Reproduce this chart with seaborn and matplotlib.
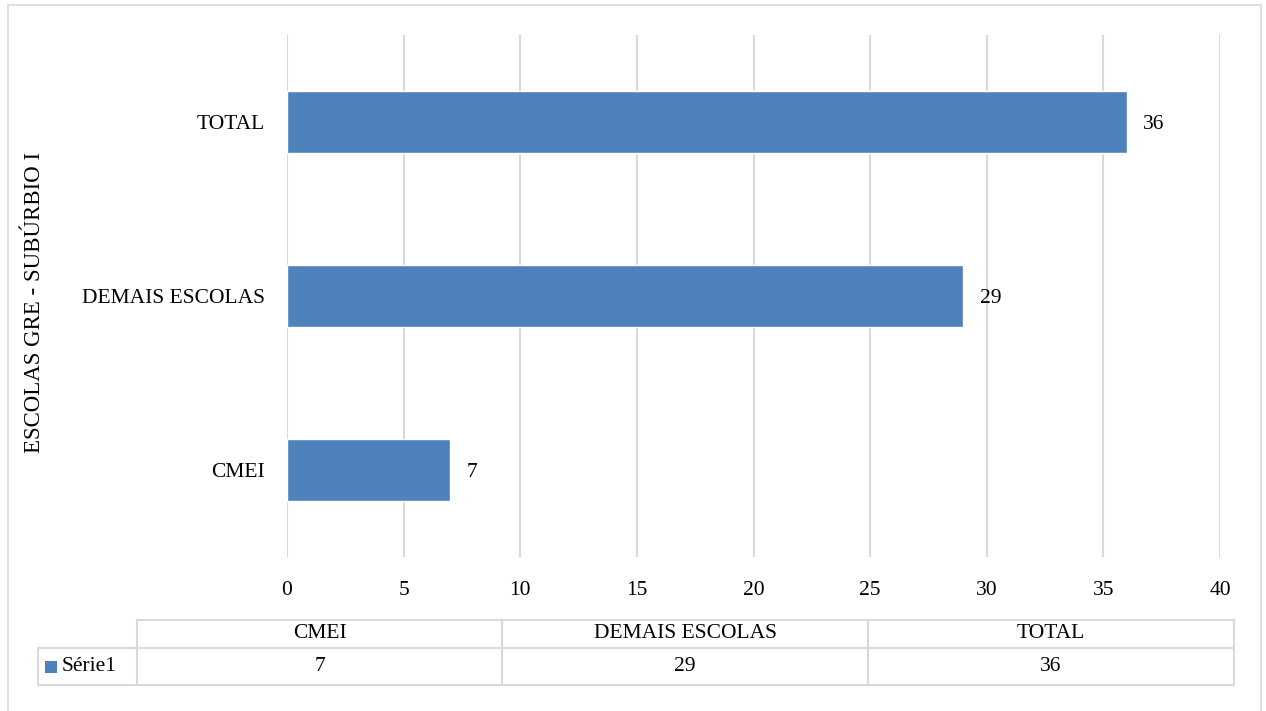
import matplotlib
matplotlib.use("Agg")
import matplotlib.pyplot as plt
import seaborn as sns
import pandas as pd
from matplotlib.lines import Line2D
from matplotlib.patches import Rectangle

categories = ["CMEI", "DEMAIS ESCOLAS", "TOTAL"]
values = [7, 29, 36]
series_name = "Série1"
y_title = "ESCOLAS GRE - SUBÚRBIO I"
x_ticks = [0, 5, 10, 15, 20, 25, 30, 35, 40]

BLUE = "#4F81BD"
GRID = "#D9D9D9"
FONT = "Liberation Serif"
FS = 15.5

sns.set_theme(style="white")
plt.rcParams["font.family"] = [FONT, "DejaVu Serif"]

W, H = 1266, 711
fig = plt.figure(figsize=(W / 100, H / 100), dpi=100)

def fx(px):
    return px / W

def fy(py):
    return 1 - py / H

ax = fig.add_axes([fx(287), fy(557), fx(1220) - fx(287), (557 - 35) / H])

df = pd.DataFrame({"cat": categories, "val": values})
sns.barplot(data=df, x="val", y="cat", order=categories[::-1], color=BLUE,
            saturation=1, width=0.356, ax=ax, zorder=3)
for c in ax.containers:
    texts = ax.bar_label(c, labels=[f"{v:g}" for v in c.datavalues],
                         padding=12, fontsize=FS, color="black")
    for t in texts:
        t.set_va("center_baseline")

ax.set_xlim(0, 40)
ax.set_xticks(x_ticks)
ax.set_xticklabels([str(t) for t in x_ticks])
ax.grid(axis="x", color=GRID, linewidth=1.5, zorder=0)
ax.grid(axis="y", visible=False)
for s in ax.spines.values():
    s.set_visible(False)
ax.tick_params(axis="x", length=0, pad=17, labelsize=FS, labelcolor="black")
ax.tick_params(axis="y", length=0, pad=16, labelsize=FS, labelcolor="black")
ax.set_xlabel("")
ax.set_ylabel("")
fig.text(fx(35), fy(302), y_title, rotation=90, ha="center", va="center",
         fontsize=16.5, color="black")

# outer chart border
fig.add_artist(Rectangle((fx(8), fy(716)), fx(1261) - fx(8), (716 - 5) / H,
                         transform=fig.transFigure, fill=False,
                         edgecolor=GRID, linewidth=1.2))

# data table
cols = [137, 502, 868, 1234]
y_top, y_mid, y_bot = 620, 648, 685
lw = 1.5

def hline(x0, x1, y):
    fig.add_artist(Line2D([fx(x0), fx(x1)], [fy(y), fy(y)],
                          transform=fig.transFigure, color=GRID, linewidth=lw))

def vline(x, y0, y1):
    fig.add_artist(Line2D([fx(x), fx(x)], [fy(y0), fy(y1)],
                          transform=fig.transFigure, color=GRID, linewidth=lw))

hline(cols[0], cols[-1], y_top)
hline(38, cols[-1], y_mid)
hline(38, cols[-1], y_bot)
vline(38, y_mid, y_bot)
for x in cols:
    vline(x, y_top, y_bot)

for i, (cat, val) in enumerate(zip(categories, values)):
    xc = (cols[i] + cols[i + 1]) / 2
    fig.text(fx(xc), fy((y_top + y_mid) / 2), cat, ha="center", va="center",
             fontsize=FS, color="black")
    fig.text(fx(xc), fy((y_mid + y_bot) / 2), f"{val:g}", ha="center",
             va="center", fontsize=FS, color="black")

fig.add_artist(Rectangle((fx(45), fy(673)), fx(12), 12 / H,
                         transform=fig.transFigure, facecolor=BLUE,
                         edgecolor="none"))
fig.text(fx(62), fy((y_mid + y_bot) / 2), series_name, ha="left", va="center",
         fontsize=FS, color="black")

fig.savefig("out.png", dpi=100, facecolor="white")
